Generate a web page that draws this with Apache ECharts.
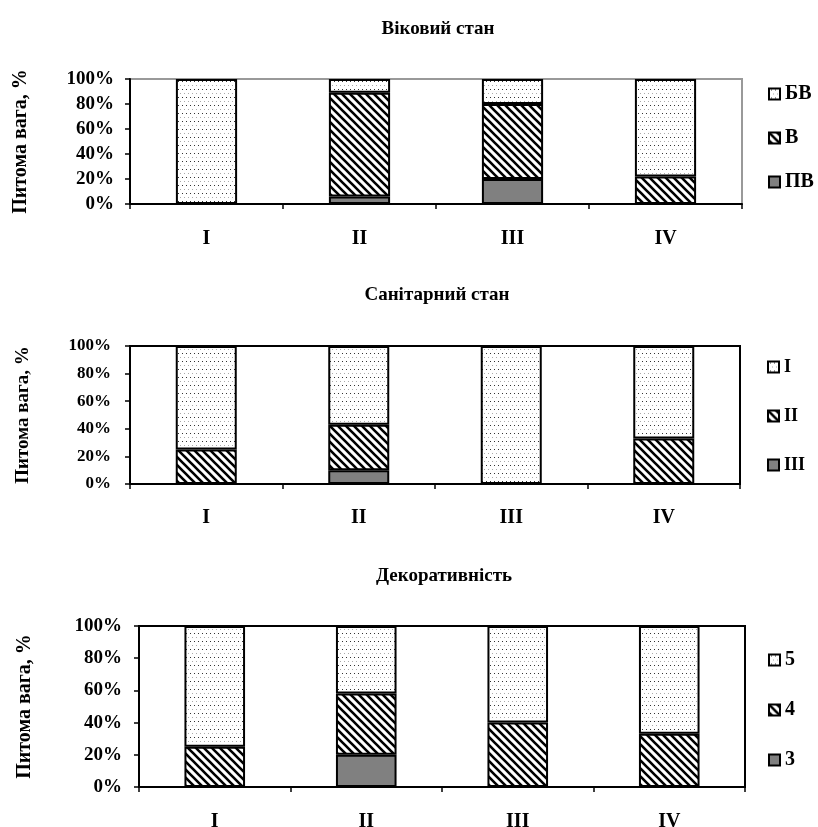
<!DOCTYPE html>
<html>
<head>
<meta charset="utf-8">
<script src="https://cdn.jsdelivr.net/npm/echarts@6/dist/echarts.min.js"></script>
<style>
html,body{margin:0;padding:0;background:#fff;}
#c{width:818px;height:827px;}
</style>
</head>
<body>
<div id="c"></div>
<script>
// ---- data ----
const categories = ['I', 'II', 'III', 'IV'];
const titles = ['Віковий стан', 'Санітарний стан', 'Декоративність'];
const yAxisName = 'Питома вага, %';
const yTicks = [0, 20, 40, 60, 80, 100];

// chart 1: Віковий стан
const age_names = ['ПВ', 'В', 'БВ'];
const age_PV = [0, 6, 20, 0];
const age_V = [0, 83, 60, 22];
const age_BV = [100, 11, 20, 78];

// chart 2: Санітарний стан
const san_names = ['III', 'II', 'I'];
const san_III = [0, 10, 0, 0];
const san_II = [25, 33, 0, 33];
const san_I = [75, 57, 100, 67];

// chart 3: Декоративність
const dec_names = ['3', '4', '5'];
const dec_3 = [0, 20, 0, 0];
const dec_4 = [25, 38, 40, 33];
const dec_5 = [75, 42, 60, 67];

// ---- patterns ----
function dotPattern() {
  const c = document.createElement('canvas');
  c.width = 8; c.height = 8;
  const g = c.getContext('2d');
  g.fillStyle = '#fff'; g.fillRect(0, 0, 8, 8);
  g.fillStyle = '#333'; g.fillRect(2, 1, 1, 1); g.fillRect(6, 1, 1, 1);
  g.fillStyle = '#aaa'; g.fillRect(0, 5, 1, 1); g.fillRect(4, 5, 1, 1);
  return { image: c, repeat: 'repeat' };
}
function hatchPattern() {
  const c = document.createElement('canvas');
  c.width = 8; c.height = 8;
  const g = c.getContext('2d');
  g.fillStyle = '#fff'; g.fillRect(0, 0, 8, 8);
  g.strokeStyle = '#000'; g.lineWidth = 2.6;
  g.beginPath();
  g.moveTo(-2, -2); g.lineTo(10, 10);
  g.moveTo(-10, -2); g.lineTo(2, 10);
  g.moveTo(6, -2); g.lineTo(18, 10);
  g.stroke();
  return { image: c, repeat: 'repeat' };
}
const DOTS = dotPattern();
const HATCH = hatchPattern();
const GRAY = '#808080';

const FONT = '"Liberation Serif", "Times New Roman", serif';

const grids = [
  { left: 130, top: 79, width: 612, height: 125, border: '#999' },
  { left: 130, top: 346, width: 610, height: 138, border: '#000' },
  { left: 139, top: 626, width: 606, height: 161, border: '#000' }
];
const titleTops = [15, 281, 562];
const nameGaps = [99, 97, 104];
const nameSizes = [20, 19, 20];
const tickSizes = [19, 17, 19];
const tickMargins = [16, 19, 17];
const xLabelMargins = [25, 24, 25];
const legendPos = [{ left: 763, top: 79 }, { left: 762, top: 353 }, { left: 763, top: 645 }];
const legendGaps = [24, 31, 30];
const legendSizes = [20, 18, 20];

const groups = [
  { names: age_names, data: [age_PV, age_V, age_BV] },
  { names: san_names, data: [san_III, san_II, san_I] },
  { names: dec_names, data: [dec_3, dec_4, dec_5] }
];
const fills = [GRAY, HATCH, DOTS];

const option = {
  animation: false,
  backgroundColor: '#fff',
  title: titles.map((t, i) => ({
    text: t,
    left: grids[i].left + grids[i].width / 2 - 3,
    textAlign: 'center',
    top: titleTops[i],
    textStyle: { fontFamily: FONT, fontWeight: 'bold', fontSize: 19, color: '#000' }
  })),
  grid: grids.map(g => ({
    left: g.left, top: g.top, width: g.width, height: g.height,
    outerBoundsMode: 'none',
    containLabel: false,
    show: true, borderColor: g.border, borderWidth: 2, backgroundColor: 'transparent'
  })),
  legend: groups.map((gr, i) => ({
    orient: 'vertical',
    left: legendPos[i].left,
    top: legendPos[i].top,
    itemGap: legendGaps[i],
    itemWidth: 11,
    itemHeight: 11,
    icon: 'rect',
    data: gr.names.slice().reverse(),
    itemStyle: { borderColor: '#000', borderWidth: 2 },
    textStyle: { fontFamily: FONT, fontWeight: 'bold', fontSize: legendSizes[i], color: '#000' }
  })),
  xAxis: grids.map((g, i) => ({
    type: 'category',
    gridIndex: i,
    data: categories,
    axisLine: { lineStyle: { color: '#000', width: 2 } },
    axisTick: { show: true, length: 5, lineStyle: { color: '#000', width: 1.5 } },
    axisLabel: { margin: xLabelMargins[i], fontFamily: FONT, fontWeight: 'bold', fontSize: 20, color: '#000' },
    splitLine: { show: false }
  })),
  yAxis: grids.map((g, i) => ({
    type: 'value',
    gridIndex: i,
    min: 0, max: 100, interval: 20,
    name: yAxisName,
    nameLocation: 'middle',
    nameGap: nameGaps[i],
    nameRotate: 90,
    nameTextStyle: { fontFamily: FONT, fontWeight: 'bold', fontSize: nameSizes[i], color: '#000' },
    axisLine: { show: true, lineStyle: { color: '#000', width: 2 } },
    axisTick: { show: true, length: 5, lineStyle: { color: '#000', width: 1.5 } },
    axisLabel: { margin: tickMargins[i], formatter: '{value}%', fontFamily: FONT, fontWeight: 'bold', fontSize: tickSizes[i], color: '#000' },
    splitLine: { show: false }
  })),
  series: []
};

groups.forEach((gr, gi) => {
  gr.names.forEach((n, si) => {
    option.series.push({
      type: 'bar',
      name: n,
      xAxisIndex: gi,
      yAxisIndex: gi,
      stack: 'g' + gi,
      barWidth: '40%',
      data: gr.data[si],
      itemStyle: { color: fills[si], borderColor: '#000', borderWidth: 2 },
      emphasis: { disabled: true }
    });
  });
});

const chart = echarts.init(document.getElementById('c'), null, { renderer: 'canvas' });
chart.setOption(option);
</script>
</body>
</html>
